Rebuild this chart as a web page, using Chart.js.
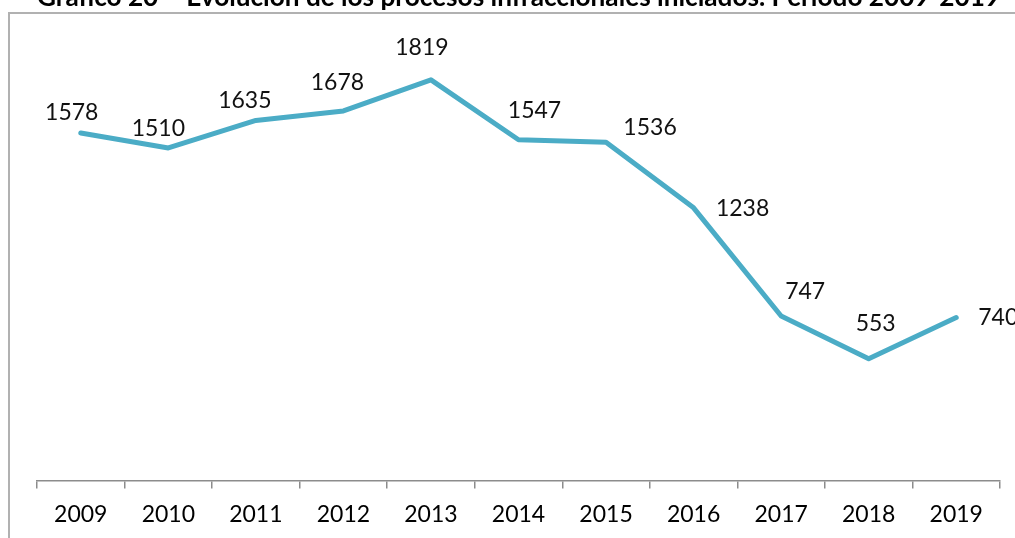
<!DOCTYPE html>
<html>
<head>
<meta charset="utf-8">
<script src="https://cdn.jsdelivr.net/npm/chart.js@4.4.1/dist/chart.umd.min.js"></script>
<style>
    html, body { margin: 0; padding: 0; background: #fff; overflow: hidden; }
    body { width: 1015px; height: 538px; position: relative; }
    #wrap { position: absolute; left: 0; top: -20px; width: 1015px; height: 558px; }
    #frame {
        position: absolute; left: 8px; top: 12px; width: 1100px; height: 600px;
        border-left: 2px solid #b1b1b1; border-top: 2px solid #b1b1b1;
        pointer-events: none;
    }
</style>
</head>
<body>
<div id="wrap"><canvas id="procesosChart"></canvas></div>
<div id="frame"></div>
<script>
const years = ["2009", "2010", "2011", "2012", "2013", "2014", "2015", "2016", "2017", "2018", "2019"];
const procesos = [1578, 1510, 1635, 1678, 1819, 1547, 1536, 1238, 747, 553, 740];
const chartTitle = "Gráfico 20 – Evolución de los procesos infraccionales iniciados. Período 2009-2019";

// where each value label sits relative to its point (dx, dy)
const labelOffsets = [
    [-9, -20], [-10, -19], [-11, -20], [-6, -28], [-9, -32], [16, -29],
    [44, -15], [49, 1], [24, -24], [7, -35], [42, 0]
];

const valueLabels = {
    id: "valueLabels",
    afterDatasetsDraw(chart) {
        const ctx = chart.ctx;
        const meta = chart.getDatasetMeta(0);
        ctx.save();
        ctx.font = "23px Lato";
        ctx.fillStyle = "#111";
        ctx.textAlign = "center";
        ctx.textBaseline = "middle";
        meta.data.forEach((pt, i) => {
            let off = labelOffsets[i];
            ctx.fillText(String(procesos[i]), pt.x + off[0], pt.y + off[1]);
        });
        ctx.restore();
    }
};

function drawChart() {
    const ctx = document.getElementById("procesosChart");

    new Chart(ctx, {
        type: "line",
        data: {
            labels: years,
            datasets: [{
                    label: "Procesos infraccionales",
                    data: procesos,
                    borderColor: "#4bacc6",
                    borderWidth: 5,
                    borderJoinStyle: "round",
                    borderCapStyle: "round",
                    pointRadius: 0,
                    tension: 0,
                    fill: false
                }]
        },
        options: {
            responsive: true,
            maintainAspectRatio: false,
            animation: false,
            layout: {
                padding: {left: 37, right: 15, top: 0, bottom: 0}
            },
            plugins: {
                legend: {display: false},
                tooltip: {enabled: false},
                title: {
                    display: true,
                    text: chartTitle,
                    color: "#000",
                    font: {family: "Lato", size: 27, weight: "bold", lineHeight: 1.2},
                    padding: {top: 1, bottom: 26.6}
                }
            },
            scales: {
                x: {
                    offset: true,
                    grid: {
                        offset: true,
                        drawOnChartArea: false,
                        drawTicks: true,
                        tickLength: 8,
                        color: "#8c8c8c",
                        lineWidth: 1.5
                    },
                    border: {color: "#8c8c8c", width: 1.5},
                    ticks: {
                        color: "#000",
                        font: {family: "Lato", size: 23},
                        padding: 12,
                        maxRotation: 0,
                        autoSkip: false
                    },
                    afterFit(scale) {
                        scale.height = 57.5;
                    }
                },
                y: {
                    display: false,
                    min: 0,
                    max: 2000
                }
            }
        },
        plugins: [valueLabels]
    });
}

drawChart();
</script>
</body>
</html>
